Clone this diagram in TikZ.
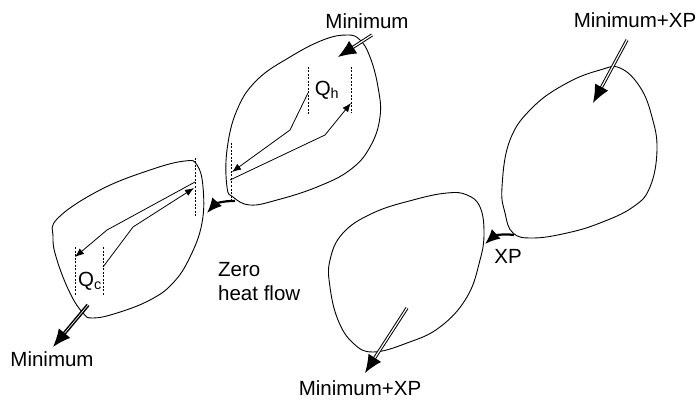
\documentclass[tikz,border=0pt]{standalone}
\usepackage{fontspec}
\setmainfont{Liberation Sans}
\usetikzlibrary{arrows.meta}

\begin{document}
\begin{tikzpicture}[x=1pt, y=-1pt, every node/.style={font=\fontsize{20.5}{24}\selectfont, inner sep=0pt},
  mflow/.style={double, double distance=1.2pt, line width=1pt, -{Latex[length=18pt,width=15pt]}},
  hflow/.style={line width=2.2pt, -{Latex[length=15pt,width=13pt]}},
  qpath/.style={line width=.8pt, -{Latex[length=9pt,width=7pt]}},
  qmark/.style={line width=.8pt, dash pattern=on 2pt off 1.5pt}]
  \useasboundingbox (0,0) rectangle (699,401);

  % cycles
  \draw[line width=.9pt] plot[smooth cycle, tension=.7] coordinates {(150,170) (185,161) (197,165) (203,187) (202,223) (190,257) (173,283) (150,300) (117,313) (93,318) (83,313) (70,293) (57,260) (53,237) (58,218) (100,190)};
  \draw[line width=.9pt] plot[smooth cycle, tension=.7] coordinates {(227,150) (237,110) (257,80) (290,57) (323,40) (347,35) (360,40) (370,57) (378,87) (380,117) (370,147) (350,170) (317,187) (277,200) (250,205) (233,197) (227,187)};
  \draw[line width=.9pt] plot[smooth cycle, tension=.7] coordinates {(620,68) (640,87) (652,117) (657,150) (650,187) (633,207) (600,223) (567,233) (533,238) (513,233) (505,213) (502,187) (510,140) (533,107) (567,83) (600,70)};
  \draw[line width=.9pt] plot[smooth cycle, tension=.7] coordinates {(467,195) (480,207) (484,233) (480,260) (467,297) (440,327) (407,343) (373,352) (353,343) (338,320) (330,287) (330,260) (343,233) (373,213) (413,200) (447,193)};

  % heat paths
  \coordinate (CT) at (195,158);
  \coordinate (CB) at (195,217);
  \coordinate (C1T) at (75,247);
  \coordinate (C1B) at (75,295);
  \coordinate (C2T) at (103,247);
  \coordinate (C2B) at (103,295);
  \coordinate (HT) at (231,143);
  \coordinate (HB) at (231,200);
  \coordinate (H1T) at (308,67);
  \coordinate (H1B) at (308,115);
  \coordinate (H2T) at (351,67);
  \coordinate (H2B) at (351,113);

  \draw[qmark] (CT)--(CB) (C1T)--(C1B) (C2T)--(C2B);
  \draw[qmark] (HT)--(HB) (H1T)--(H1B) (H2T)--(H2B);
  \draw[qpath] (195,182)--(107,230)--(75,257);
  \draw[qpath] (103,267)--(133,227)--(194,188);
  \draw[qpath] (308,93)--(290,130)--(232,172);
  \draw[qpath] (230,180)--(325,135)--(351,103);

  % streams
  \coordinate (MA) at (372,35);
  \coordinate (MB) at (338,57);
  \coordinate (MC) at (88,305);
  \coordinate (MD) at (53,347);
  \coordinate (XA) at (627,40);
  \coordinate (XB) at (593,103);
  \coordinate (XC) at (407,308);
  \coordinate (XD) at (365,373);
  \draw[mflow] (MA)--(MB);
  \draw[mflow, double distance=.6pt, line width=1.5pt] (MC)--(MD);
  \draw[mflow] (XA)--(XB);
  \draw[mflow] (XC)--(XD);

  \coordinate (ZA) at (235,201);
  \coordinate (ZB) at (207,213);
  \coordinate (PA) at (514,235);
  \coordinate (PB) at (485,244);
  \draw[hflow] (ZA) to[bend right=25] (ZB);
  \draw[hflow] (PA) to[bend right=25] (PB);

  \node              at (367,21)  {Minimum};
  \node              at (635,20)  {Minimum+XP};
  \node              at (52,359)  {Minimum};
  \node              at (360,388) {Minimum+XP};
  \node[align=left, anchor=north west] at (218,262) {Zero\\heat flow};
  \node              at (508,256) {XP};
  \node              at (90,281)  {Q\textsubscript{c}};
  \node              at (327,90)  {Q\textsubscript{h}};
\end{tikzpicture}
\end{document}
